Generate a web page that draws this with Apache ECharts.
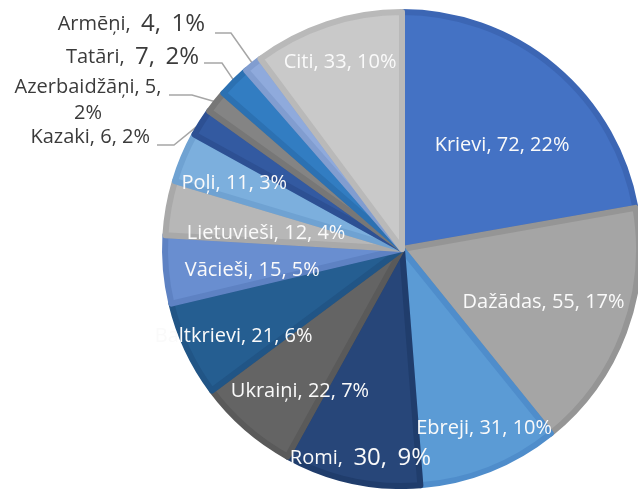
<!DOCTYPE html>
<html>
<head>
<meta charset="utf-8">
<script src="https://cdn.jsdelivr.net/npm/echarts@6/dist/echarts.min.js"></script>
<style>
  html, body { margin: 0; background: #fff; }
  #chart { width: 638px; height: 489px; }
</style>
</head>
<body>
<div id="chart"></div>
<script>
const names = ["Krievi", "Dažādas", "Ebreji", "Romi", "Ukraiņi", "Baltkrievi", "Vācieši",
  "Lietuvieši", "Poļi", "Kazaki", "Azerbaidžāņi", "Tatāri", "Armēņi", "Citi"];
const counts = [72, 55, 31, 30, 22, 21, 15, 12, 11, 6, 5, 7, 4, 33];

const fills = ["#4472c4", "#a5a5a5", "#5b9bd5", "#274679", "#646464", "#255e91", "#698ed0",
  "#b7b7b7", "#7cafdd", "#335aa1", "#848484", "#327dc2", "#8faadc", "#c9c9c9"];
const edges = ["#3c66b4", "#959595", "#4f8dcb", "#203d6c", "#5a5a5a", "#215586", "#5e82c3",
  "#a9a9a9", "#6fa2d2", "#2d5093", "#777777", "#2c71b2", "#819dd0", "#b9b9b9"];

// inside labels: share of the radius where they sit, and a small turn (deg, clockwise)
const labelReach = [0.6, 0.63, 0.82, 0.89, 0.73, 0.79, 0.63, 0.57, 0.75, 0, 0, 0, 0, 0.82];
const labelTurn = [4, 0, -3, -1, -5.5, -2.4, -3, -3.3, -1.5, 0, 0, 0, 0, 0];

// the four small slices get their labels outside, on the upper left
const outerLabels = {
  "Armēņi":       { x: 205, y: 24,  align: "right",  bend: [231, 33], end: [215, 33] },
  "Tatāri":       { x: 199, y: 57,  align: "right",  bend: [222, 63], end: [204, 63] },
  "Azerbaidžāņi": { x: 88,  y: 100, align: "center", bend: [192, 95], end: [169, 95] },
  "Kazaki":       { x: 150, y: 137, align: "right",  bend: [174, 145], end: [157, 145] },
};
const bigNumbers = new Set(["Armēņi", "Tatāri", "Romi"]);

const CX = 402, CY = 249, R = 240, BORDER = 6;
const FONT = "'Open Sans', 'Noto Sans', sans-serif";

const chart = echarts.init(document.getElementById("chart"), null, { renderer: "canvas" });

const data = names.map((name, i) => {
  const item = {
    name,
    value: counts[i],
    itemStyle: { color: fills[i], borderColor: edges[i] },
  };
  if (outerLabels[name]) {
    item.label = { position: "outside", color: "#3b3b3b" };
    item.labelLine = { show: true };
  }
  return item;
});

chart.setOption({
  animation: false,
  backgroundColor: "#fff",
  series: [{
    type: "pie",
    center: [CX, CY],
    radius: [0, R - BORDER / 2],
    startAngle: 90,
    clockwise: true,
    percentPrecision: 0,
    avoidLabelOverlap: false,
    silent: true,
    itemStyle: { borderWidth: BORDER, borderJoin: "round" },
    label: {
      show: true,
      position: "inside",
      color: "#fafafa",
      fontFamily: FONT,
      fontSize: 20,
      lineHeight: 26,
      formatter: (p) => {
        if (bigNumbers.has(p.name)) return `{t|${p.name},}  {n|${p.value},}  {n|${p.percent}%}`;
        if (p.name === "Azerbaidžāņi") return `${p.name}, ${p.value},\n${p.percent}%`;
        return `${p.name}, ${p.value}, ${p.percent}%`;
      },
      rich: {
        t: { fontFamily: FONT, fontSize: 20 },
        n: { fontFamily: FONT, fontSize: 24 },
      },
    },
    labelLine: { show: false, lineStyle: { color: "#a6a6a6", width: 1.5 } },
    labelLayout: (p) => {
      const i = p.dataIndex;
      const o = outerLabels[names[i]];
      if (o) {
        const start = p.labelLinePoints ? p.labelLinePoints[0] : o.bend;
        return {
          x: o.x, y: o.y, align: o.align, verticalAlign: "middle",
          labelLinePoints: [start, o.bend, o.end],
        };
      }
      const r = p.labelRect;
      const vx = r.x + r.width / 2 - CX, vy = r.y + r.height / 2 - CY;
      const s = labelReach[i] * R / Math.hypot(vx, vy);
      const t = labelTurn[i] * Math.PI / 180;
      const nx = (vx * Math.cos(t) - vy * Math.sin(t)) * s;
      const ny = (vx * Math.sin(t) + vy * Math.cos(t)) * s;
      return { dx: nx - vx, dy: ny - vy };
    },
    data,
  }],
});
</script>
</body>
</html>
